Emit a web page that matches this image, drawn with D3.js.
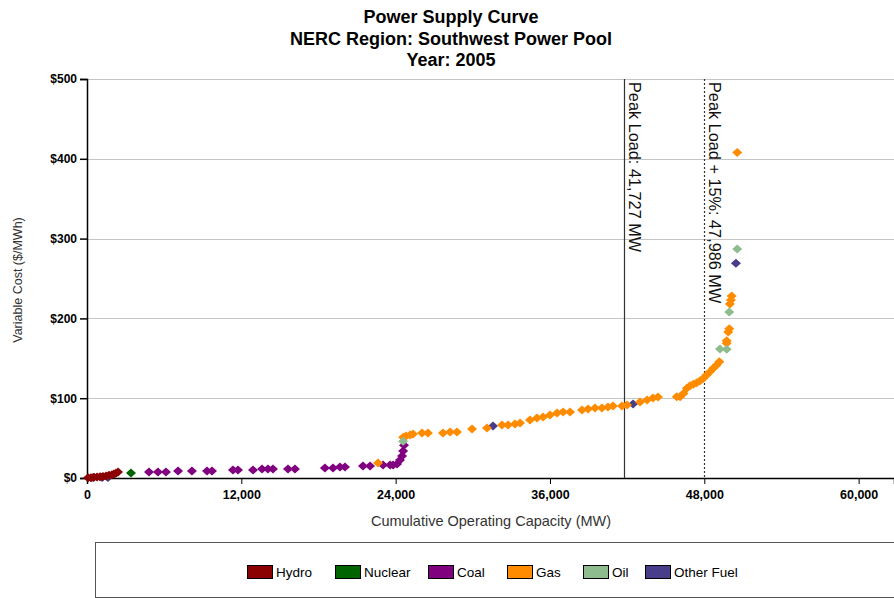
<!DOCTYPE html>
<html>
<head>
<meta charset="utf-8">
<script src="https://cdn.jsdelivr.net/npm/d3@7"></script>
<style>
  html, body { margin: 0; padding: 0; background: #fff; }
  svg { display: block; }
</style>
</head>
<body>
<svg id="chart" width="894" height="598"></svg>
<script>
// Supply curve points: cumulative capacity (MW) and variable cost ($/MWh) per fuel type
const hydroMW   = [80, 310, 540, 780, 1010, 1240, 1480, 1710, 1940, 2100, 2250, 2410];
const hydroCost = [0.2, 0.3, 1, 1.2, 1.5, 2, 2.5, 3.5, 4, 5, 6, 7.5];

const nuclearMW   = [3420];
const nuclearCost = [6.3];

const coalMW   = [4820, 5520, 6140, 7080, 8160, 9330, 9720, 11350, 11740, 12910, 13610, 14070, 14460,
                  15630, 16170, 18500, 19130, 19670, 20060, 21460, 22010, 23020, 23570, 23800, 24110,
                  24340, 24500, 24580, 24650];
const coalCost = [7.5, 7.5, 7.5, 8.8, 8.8, 8.8, 8.8, 10, 10, 10, 11.3, 11.3, 11.3,
                  11.3, 11.3, 12.5, 12.5, 13.8, 13.8, 15, 15, 16.3, 16.3, 16.3, 17.5,
                  22.5, 27.5, 33.8, 41];

const gasMW   = [22630, 24580, 24810, 25120, 25350, 26050, 26510, 27680, 28230, 28770, 29940, 31100,
                 32270, 32740, 33280, 33670, 34450, 34990, 35460, 36000, 36550, 37020, 37560,
                 38490, 38960, 39500, 40040, 40510, 40900, 41600, 41990, 43000, 43550, 44010, 44400,
                 45860, 46120, 46380, 46640, 46890, 47150, 47410, 47670, 47930, 48180, 48440, 48700,
                 48960, 49170, 49740, 49740, 49860, 49940, 49990, 50070, 50130, 50560];
const gasCost = [18.8, 51, 52.6, 54, 55, 56.4, 56.4, 56.4, 57.6, 57.6, 61.4, 62.7,
                 66.4, 66.4, 67.7, 69, 72.7, 75.2, 76.4, 78.9, 81.5, 82.7, 82.7,
                 85.2, 86.5, 87.7, 87.7, 89, 90.2, 90.2, 91.5, 95.2, 97.7, 100.3, 101.5,
                 101.9, 101.9, 106, 112.4, 115.7, 117.4, 119.4, 121.9, 124.9, 129, 133.2, 137.5,
                 141.6, 145.7, 172, 169, 183, 187, 218, 223, 228, 408];

const oilMW   = [24580, 49220, 49740, 49940, 50560];
const oilCost = [46, 161.7, 161.3, 208, 287];

const otherMW   = [470, 1170, 1630, 31570, 42460, 50460];
const otherCost = [0.5, 0.5, 0.5, 65.2, 92.7, 269];

const fuels   = ["Hydro", "Nuclear", "Coal", "Gas", "Oil", "Other Fuel"];
const colors  = ["#8b0000", "#006400", "#800080", "#ff8c00", "#8fbc8f", "#483d8b"];
const seriesMW   = [hydroMW, nuclearMW, coalMW, gasMW, oilMW, otherMW];
const seriesCost = [hydroCost, nuclearCost, coalCost, gasCost, oilCost, otherCost];
// marker paint order (Other Fuel sits underneath the hydro cluster)
const drawOrder = [5, 0, 1, 2, 3, 4];

const xTicks = [0, 12000, 24000, 36000, 48000, 60000];
const yTicks = [0, 100, 200, 300, 400, 500];

const peakLoad = 41727;
const peakLoadPlus = 47986;

const titleLines = ["Power Supply Curve", "NERC Region: Southwest Power Pool", "Year: 2005"];

// ---- layout ----
const svg = d3.select("#chart");
const plot = { left: 87, right: 894, top: 79, bottom: 478 };

const x = d3.scaleLinear().domain([0, 62750]).range([plot.left, plot.right]);
const y = d3.scaleLinear().domain([0, 500]).range([plot.bottom, plot.top]);

const sans = "'Liberation Sans', Arial, sans-serif";

// Title
svg.append("g").selectAll("text").data(titleLines).join("text")
  .attr("x", 451).attr("y", (d, i) => 23 + i * 21.5)
  .attr("text-anchor", "middle")
  .attr("font-family", sans).attr("font-weight", "bold").attr("font-size", 18)
  .attr("fill", "#000")
  .text(d => d);

// Horizontal gridlines
svg.append("g").selectAll("line").data(yTicks.filter(d => d > 0)).join("line")
  .attr("x1", plot.left).attr("x2", plot.right)
  .attr("y1", d => Math.round(y(d)) + 0.5).attr("y2", d => Math.round(y(d)) + 0.5)
  .attr("stroke", "#c4c4c4").attr("stroke-width", 1);

// Y axis
const yAxis = svg.append("g")
  .attr("transform", `translate(${plot.left},0)`)
  .call(d3.axisLeft(y).tickValues(yTicks).tickSize(7).tickPadding(3)
    .tickFormat(d => "$" + d));
yAxis.select(".domain").attr("stroke", "#000").attr("stroke-width", 1.5);
yAxis.selectAll(".tick line").attr("stroke", "#000").attr("stroke-width", 1.5);
yAxis.selectAll(".tick text")
  .attr("font-family", sans).attr("font-weight", "bold").attr("font-size", 12).attr("fill", "#000");

// X axis
const xAxis = svg.append("g")
  .attr("transform", `translate(0,${plot.bottom})`)
  .call(d3.axisBottom(x).tickValues(xTicks).tickSize(6).tickPadding(6)
    .tickFormat(d3.format(",")));
xAxis.select(".domain").attr("stroke", "#000").attr("stroke-width", 1.5);
xAxis.selectAll(".tick line").attr("stroke", "#000").attr("stroke-width", 1);
xAxis.selectAll(".tick text")
  .attr("font-family", sans).attr("font-weight", "bold").attr("font-size", 12.5).attr("fill", "#000");

// Axis titles
svg.append("text")
  .attr("x", 491).attr("y", 526)
  .attr("text-anchor", "middle")
  .attr("font-family", sans).attr("font-size", 14.5).attr("fill", "#333")
  .text("Cumulative Operating Capacity (MW)");

svg.append("text")
  .attr("transform", "translate(22,280) rotate(-90)")
  .attr("text-anchor", "middle")
  .attr("font-family", sans).attr("font-size", 12.5).attr("fill", "#333")
  .text("Variable Cost ($/MWh)");

// Peak load reference lines
const refs = [
  { value: peakLoad, dash: null, label: "Peak Load: 41,727 MW" },
  { value: peakLoadPlus, dash: "2,2", label: "Peak Load + 15%: 47,986 MW" }
];
const refG = svg.append("g");
refs.forEach(r => {
  const px = Math.round(x(r.value)) + 0.5;
  refG.append("line")
    .attr("x1", px).attr("x2", px).attr("y1", plot.top).attr("y2", plot.bottom)
    .attr("stroke", "#333").attr("stroke-width", 1.2)
    .attr("stroke-dasharray", r.dash);
  refG.append("text")
    .attr("transform", `translate(${px + 4},${plot.top + 3}) rotate(90)`)
    .attr("font-family", sans).attr("font-size", 16.3).attr("fill", "#111")
    .text(r.label);
});

// Diamond markers
const diamond = (cx, cy) =>
  `M${cx - 5},${cy}L${cx},${cy - 4.5}L${cx + 5},${cy}L${cx},${cy + 4.5}Z`;

const points = [];
drawOrder.forEach(i => {
  seriesMW[i].forEach((mw, j) => points.push({ fuel: fuels[i], color: colors[i], mw, cost: seriesCost[i][j] }));
});

svg.append("g").selectAll("path").data(points).join("path")
  .attr("d", d => diamond(x(d.mw), y(d.cost)))
  .attr("fill", d => d.color);

// Legend
const legend = svg.append("g");
legend.append("rect")
  .attr("x", 95.5).attr("y", 542.5).attr("width", 820).attr("height", 55)
  .attr("fill", "#fff").attr("stroke", "#555").attr("stroke-width", 1);

const legendX = [247, 335, 428, 507, 583, 645];
const items = legend.selectAll("g.item").data(fuels).join("g")
  .attr("class", "item")
  .attr("transform", (d, i) => `translate(${legendX[i]},565)`);
items.append("rect")
  .attr("x", 0.5).attr("y", 0.5).attr("width", 25).attr("height", 13)
  .attr("fill", (d, i) => colors[i]).attr("stroke", "#000").attr("stroke-width", 1);
items.append("text")
  .attr("x", 29).attr("y", 11.5)
  .attr("font-family", sans).attr("font-size", 13.5).attr("fill", "#000")
  .text(d => d);
</script>
</body>
</html>
